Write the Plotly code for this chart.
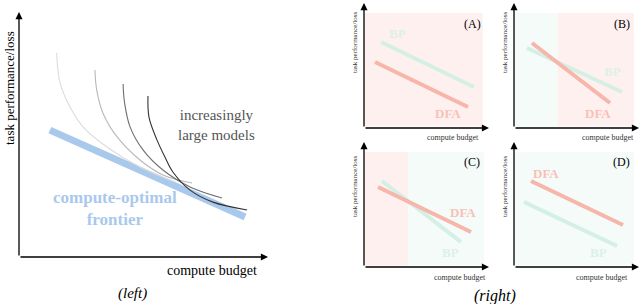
import plotly.graph_objects as go

W, H = 640, 304

# ---------------- left panel data (schematic units 0..100) ----------------
curve1_x = [15.1, 16.5, 20.5, 25.7, 35.3, 48.6, 62.7]
curve1_y = [83.4, 71.0, 61.2, 53.1, 44.9, 36.7, 30.6]
curve2_x = [30.5, 31.2, 33.7, 39.4, 48.6, 57.8, 69.5]
curve2_y = [76.3, 68.2, 58.8, 49.0, 39.6, 33.5, 30.2]
curve3_x = [41.8, 42.4, 44.6, 49.8, 57.8, 68.7, 81.5]
curve3_y = [70.6, 62.9, 53.1, 43.7, 35.5, 28.6, 24.1]
curve4_x = [51.8, 52.2, 55.4, 58.6, 61.8, 68.7, 77.9, 91.6]
curve4_y = [65.7, 57.1, 47.8, 40.8, 34.7, 27.3, 22.4, 19.2]
curve_colors = ["#dcdcdc", "#b8b8b8", "#6e6e6e", "#333333"]
frontier_x = [12.4, 90.8]
frontier_y = [51.8, 16.3]

# ---------------- right panels data ----------------
panels = ["A", "B", "C", "D"]
# background regions: [x_start, x_end, which]
regions = {
    "A": [[0, 95, "DFA"]],
    "B": [[0, 34.7, "BP"], [34.7, 96, "DFA"]],
    "C": [[0, 35.2, "DFA"], [35.2, 96, "BP"]],
    "D": [[0, 96, "BP"]],
}
bp_x = {"A": [13.6, 88.0], "B": [10.4, 86.4], "C": [14.4, 77.6], "D": [8.0, 82.4]}
bp_y = {"A": [68.8, 32.8], "B": [64.0, 28.8], "C": [68.8, 20.0], "D": [52.0, 16.8]}
dfa_x = {"A": [8.8, 83.2], "B": [14.4, 76.8], "C": [11.2, 85.6], "D": [13.6, 87.2]}
dfa_y = {"A": [52.8, 16.8], "B": [68.0, 20.0], "C": [64.0, 28.0], "D": [68.8, 33.6]}
bp_label = {"A": (26.4, 75.2), "B": (78.4, 44.8), "C": (68.8, 12.0), "D": (67.2, 12.0)}
dfa_label = {"A": (67.2, 11.2), "B": (67.2, 11.2), "C": (79.2, 44.0), "D": (25.6, 75.2)}
tag_pos = {"A": (86.4, 83.2), "B": (86.4, 83.2), "C": (86.4, 84.0), "D": (85.6, 84.0)}

BP_LINE, BP_TXT, BP_BG = "#d4efe4", "#dcf1e8", "#f4fbf8"
DFA_LINE, DFA_TXT, DFA_BG = "#f6b6a9", "#f7c2b6", "#fff0f0"
FRONTIER = "#a9c9ec"

SERIF = "Liberation Serif"

fig = go.Figure()

def dom(x0, x1, y_bottom, y_top):
    return [x0 / W, x1 / W], [(H - y_bottom) / H, (H - y_top) / H]

def px(x, y):
    return x / W, (H - y) / H

axes_px = {
    "": (19, 268, 257, 12),
    "2": (364, 489, 128, 3),
    "3": (514, 639, 128, 3),
    "4": (364, 489, 267, 142),
    "5": (514, 639, 267, 142),
}
layout_axes = {}
for k, (a, b, c, d) in axes_px.items():
    xd, yd = dom(a, b, c, d)
    common = dict(range=[0, 100], showgrid=False, zeroline=False,
                  showticklabels=False, ticks="", showline=False, fixedrange=True)
    layout_axes["xaxis" + k] = dict(domain=xd, anchor="y" + k, **common)
    layout_axes["yaxis" + k] = dict(domain=yd, anchor="x" + k, **common)

# ---------------- left panel traces ----------------
fig.add_trace(go.Scatter(x=frontier_x, y=frontier_y, mode="lines",
                         line=dict(color=FRONTIER, width=7), xaxis="x", yaxis="y",
                         hoverinfo="skip", showlegend=False))
for cx, cy, col in zip([curve1_x, curve2_x, curve3_x, curve4_x],
                       [curve1_y, curve2_y, curve3_y, curve4_y], curve_colors):
    fig.add_trace(go.Scatter(x=cx, y=cy, mode="lines",
                             line=dict(color=col, width=1.1, shape="spline", smoothing=1.0),
                             xaxis="x", yaxis="y", hoverinfo="skip", showlegend=False))

annotations = []
shapes = []

def axis_arrows(xr, yr):
    for (x, y) in [(100, 0), (0, 100)]:
        annotations.append(dict(x=x, y=y, ax=0, ay=0, xref=xr, yref=yr,
                                axref=xr, ayref=yr, text="", showarrow=True,
                                arrowhead=2, arrowsize=1.1, arrowwidth=1.3,
                                arrowcolor="#000000"))

def ptext(x, y, text, size, color="#000000", angle=0):
    xx, yy = px(x, y)
    annotations.append(dict(x=xx, y=yy, xref="paper", yref="paper", text=text,
                            xanchor="center", yanchor="middle",
                            textangle=angle, showarrow=False,
                            font=dict(family=SERIF, size=size, color=color)))

axis_arrows("x", "y")
annotations += [
    dict(x=79.5, y=53.8, xref="x", yref="y", text="increasingly<br>large models",
         showarrow=False, font=dict(family=SERIF, size=15, color="#555555")),
    dict(x=38.5, y=19.8, xref="x", yref="y", text="<b>compute-optimal<br>frontier</b>",
         showarrow=False, font=dict(family=SERIF, size=17, color=FRONTIER)),
]
ptext(212, 270, "compute budget", 14)
ptext(9, 88, "task performance/loss", 13, angle=-90)
ptext(132, 293, "<i>(left)</i>", 15)

# ---------------- right panels ----------------
xtitle_px = {"A": (453, 137), "B": (608, 137), "C": (460, 277), "D": (602, 277)}
ytitle_px = {"A": (355, 42), "B": (505, 42), "C": (355, 186), "D": (505, 186)}
for p, k in zip(panels, ["2", "3", "4", "5"]):
    xr, yr = "x" + k, "y" + k
    for x0, x1, which in regions[p]:
        shapes.append(dict(type="rect", xref=xr, yref=yr, x0=x0, x1=x1, y0=1.5, y1=92,
                           fillcolor=DFA_BG if which == "DFA" else BP_BG,
                           line=dict(width=0), layer="below"))
    fig.add_trace(go.Scatter(x=bp_x[p], y=bp_y[p], mode="lines",
                             line=dict(color=BP_LINE, width=4), xaxis=xr, yaxis=yr,
                             hoverinfo="skip", showlegend=False))
    fig.add_trace(go.Scatter(x=dfa_x[p], y=dfa_y[p], mode="lines",
                             line=dict(color=DFA_LINE, width=4), xaxis=xr, yaxis=yr,
                             hoverinfo="skip", showlegend=False))
    axis_arrows(xr, yr)
    annotations += [
        dict(x=bp_label[p][0], y=bp_label[p][1], xref=xr, yref=yr, text="<b>BP</b>",
             showarrow=False, font=dict(family=SERIF, size=13, color=BP_TXT)),
        dict(x=dfa_label[p][0], y=dfa_label[p][1], xref=xr, yref=yr, text="<b>DFA</b>",
             showarrow=False, font=dict(family=SERIF, size=13, color=DFA_TXT)),
        dict(x=tag_pos[p][0], y=tag_pos[p][1], xref=xr, yref=yr, text="(%s)" % p,
             showarrow=False, font=dict(family=SERIF, size=12, color="#000000")),
    ]
    ptext(*xtitle_px[p], "compute budget", 8, color="#333333")
    ptext(*ytitle_px[p], "task performance/loss", 7, color="#333333", angle=-90)

ptext(495, 296, "<i>(right)</i>", 16)

fig.update_layout(width=W, height=H, margin=dict(l=0, r=0, t=0, b=0),
                  paper_bgcolor="white", plot_bgcolor="rgba(0,0,0,0)",
                  annotations=annotations, shapes=shapes, **layout_axes)

fig.write_html("out.html", config={"displayModeBar": False},
               post_script="document.body.style.margin='0px';document.body.style.overflow='hidden';")
